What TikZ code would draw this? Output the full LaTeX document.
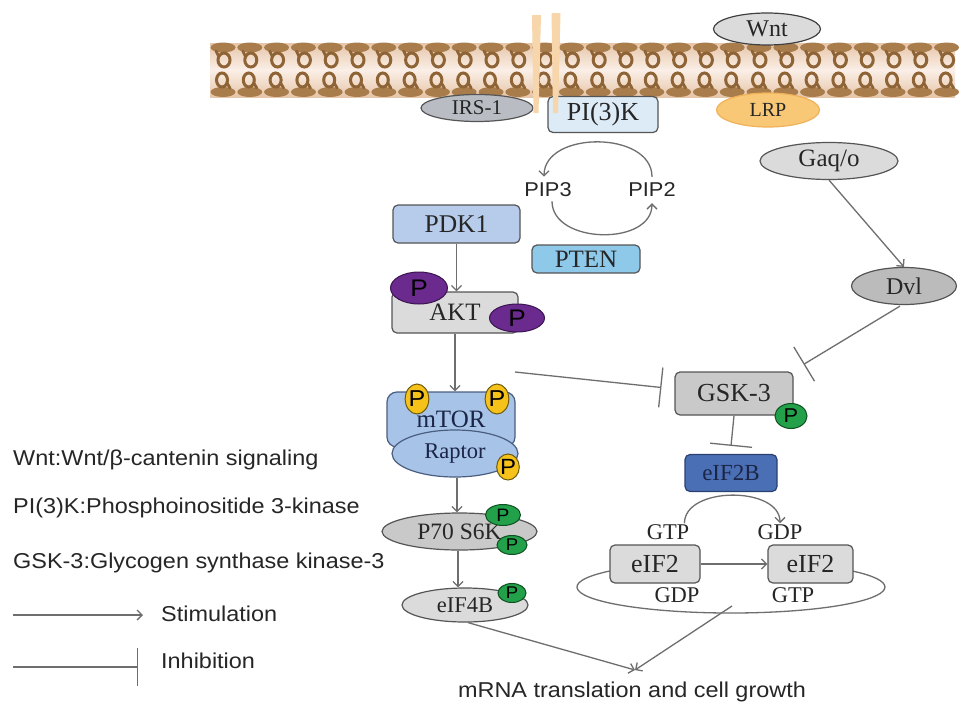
\documentclass[tikz,border=0pt]{standalone}
\usepackage{fontspec}
\setmainfont{Liberation Serif}
\newfontfamily\lsans[FakeStretch=1.09]{Liberation Sans}
\usetikzlibrary{shapes.geometric,arrows.meta}
\newcommand\myfs[1]{\fontsize{#1}{#1}\selectfont}
\definecolor{bordgray}{HTML}{555555}
\definecolor{linegray}{HTML}{6E6E6E}
\definecolor{txtgray}{HTML}{262626}
\definecolor{mbrown}{HTML}{A97C4C}
\definecolor{mdark}{HTML}{8E6436}
\definecolor{mpeach}{HTML}{E6C5A8}
\definecolor{mlight}{HTML}{FBEFE7}
\definecolor{chan}{HTML}{F7D6AC}
\definecolor{irsfill}{HTML}{B9BDC3}
\definecolor{pikfill}{HTML}{DDEBF7}
\definecolor{lgray}{HTML}{DBDBDB}
\definecolor{mgray}{HTML}{C9C9C9}
\definecolor{dgray}{HTML}{BBBBBB}
\definecolor{lrpfill}{HTML}{F8C877}
\definecolor{lrpdraw}{HTML}{F0B258}
\definecolor{pdkfill}{HTML}{B7CCEB}
\definecolor{ptenfill}{HTML}{8FC9E9}
\definecolor{mtorfill}{HTML}{A8C3E8}
\definecolor{mtordraw}{HTML}{4A5F80}
\definecolor{purp}{HTML}{6B2A8E}
\definecolor{purpd}{HTML}{3A1550}
\definecolor{yel}{HTML}{F6C21A}
\definecolor{yeld}{HTML}{6B5A10}
\definecolor{grn}{HTML}{22A04A}
\definecolor{grnd}{HTML}{0F5020}
\definecolor{eiffill}{HTML}{4B6FB5}
\definecolor{eifdraw}{HTML}{2A4070}
\definecolor{eiftxt}{HTML}{1A2547}
\begin{document}
\begin{tikzpicture}[x=1pt,y=1pt,
  ell/.style={ellipse, draw=bordgray, line width=1.2pt, inner sep=0pt, text=txtgray},
  rbox/.style={rectangle, rounded corners=5pt, draw=bordgray, line width=1.2pt, inner sep=0pt, text=txtgray},
  pp/.style={ellipse, inner sep=0pt, line width=1pt, text=black},
  lbl/.style={inner sep=1pt, text=txtgray},
  stim/.style={draw=linegray, line width=1.3pt, -{Straight Barb[length=5pt,width=10pt]}},
  inh/.style={draw=linegray, line width=1.3pt, -{Bar[width=#1,line width=1.3pt]}},
  inh/.default=40pt,
  plainline/.style={draw=linegray, line width=1.3pt}
]
\useasboundingbox (0,0) rectangle (969,-718);
\fill[white] (0,0) rectangle (969,-718);

% membrane
\shade[top color=mpeach, bottom color=mpeach, middle color=mlight] (210,-43) rectangle (955,-97);
\foreach \i in {0,...,27}{
  \pgfmathsetmacro\xx{223+26.8*\i}
  \fill[mbrown] (\xx,-47.5) ellipse [x radius=12.5pt, y radius=5pt];
  \fill[mbrown] (\xx,-92) ellipse [x radius=12.5pt, y radius=5pt];
  \draw[mdark, line width=3pt] (\xx+1,-60) ellipse [x radius=6pt, y radius=7pt];
  \draw[mdark, line width=3pt] (\xx-1,-80) ellipse [x radius=5.5pt, y radius=7pt];
  \draw[mdark, line width=2.8pt, line cap=round] (\xx-7,-51) -- (\xx-4,-57);
  \draw[mdark, line width=2.8pt, line cap=round] (\xx+7,-88) -- (\xx+4,-83);
}

% membrane proteins
\node[ell, fill=irsfill, minimum width=112pt, minimum height=27pt, font=\myfs{21}] (irs) at (477,-108) {IRS-1};
\node[rbox, fill=pikfill, minimum width=110pt, minimum height=36pt, font=\myfs{26}] (pi3k) at (603,-114.5) {PI(3)K};
\fill[chan] (532,-15) -- (541,-15) -- (538.5,-113) -- (533.5,-113) -- cycle;
\fill[chan] (551.5,-13) -- (560.5,-13) -- (558,-113) -- (553,-113) -- cycle;
\node[ell, fill=lgray, draw=black!75, minimum width=107pt, minimum height=32pt, font=\myfs{24}] (wnt) at (767,-29) {Wnt};
\node[ell, fill=lrpfill, draw=lrpdraw, minimum width=103pt, minimum height=34pt, font=\myfs{20}] (lrp) at (768,-110) {LRP};

% PIP cycle
\node[lbl, font=\lsans\myfs{20}] (pip3) at (548,-190) {PIP3};
\node[lbl, font=\lsans\myfs{20}] (pip2) at (652,-190) {PIP2};
\draw[stim] ([yshift=5pt]pip2.north) to[out=90, in=90, looseness=1.1] ([xshift=-4pt,yshift=5pt]pip3.north);
\draw[stim] ([xshift=4pt,yshift=-3pt]pip3.south) to[out=-90, in=-90, looseness=1.1] ([yshift=-5pt]pip2.south);

% left cascade
\node[rbox, fill=pdkfill, minimum width=127pt, minimum height=38pt, font=\myfs{25.5}] (pdk1) at (456.5,-224) {PDK1};
\node[rbox, fill=ptenfill, draw=bordgray, minimum width=108pt, minimum height=28pt, font=\myfs{25}] (pten) at (586,-259) {PTEN};
\node[rbox, fill=lgray, minimum width=126pt, minimum height=41pt, font=\myfs{25}] (akt) at (455,-312.5) {AKT};
\node[pp, fill=purp, draw=purpd, minimum width=57pt, minimum height=32pt, font=\lsans\myfs{24}] (pa1) at (419,-288) {P};
\node[pp, fill=purp, draw=purpd, minimum width=55pt, minimum height=28pt, font=\lsans\myfs{24}] (pa2) at (517,-318) {P};

\node[rbox, rounded corners=10pt, fill=mtorfill, draw=mtordraw, minimum width=128pt, minimum height=55pt, text=eiftxt, font=\myfs{26}] (mtor) at (451,-419.5) {};
\node[ell, fill=mtorfill, draw=mtordraw, minimum width=126pt, minimum height=47pt, text=eiftxt, font=\myfs{22.5}] (raptor) at (455,-453.5) {Raptor};
\node[lbl, text=eiftxt, font=\myfs{25}] (mtorlbl) at (451,-419) {mTOR};
\node[pp, fill=yel, draw=yeld, minimum width=22pt, minimum height=30pt, font=\lsans\myfs{23}] (py1) at (417,-399) {P};
\node[pp, fill=yel, draw=yeld, minimum width=22pt, minimum height=30pt, font=\lsans\myfs{23}] (py2) at (497,-399) {P};
\node[pp, fill=yel, draw=yeld, minimum width=22pt, minimum height=26pt, font=\lsans\myfs{22}] (py3) at (508,-467) {P};

\node[ell, fill=mgray, minimum width=155pt, minimum height=37pt, font=\myfs{23.5}] (p70) at (459.5,-531.5) {P70 S6K};
\node[pp, fill=grn, draw=grnd, minimum width=35pt, minimum height=21pt, font=\lsans\myfs{18}] (pg1) at (503,-515) {P};
\node[pp, fill=grn, draw=grnd, minimum width=30pt, minimum height=19pt, font=\lsans\myfs{17}] (pg2) at (512,-545) {P};
\node[ell, fill=lgray, minimum width=126pt, minimum height=34pt, font=\myfs{22.5}] (eif4b) at (465,-605) {eIF4B};
\node[pp, fill=grn, draw=grnd, minimum width=28pt, minimum height=19pt, font=\lsans\myfs{17}] (pg3) at (512,-593) {P};

\draw[stim] (pdk1.south) -- (pdk1.south |- akt.north);
\draw[stim] (akt.south) -- (akt.south |- mtor.north);
\draw[stim] ([xshift=2pt]raptor.south) -- ([xshift=2pt]raptor.south |- p70.north);
\draw[stim] ([xshift=-1.5pt]p70.south) -- ([xshift=-1.5pt]p70.south |- eif4b.north);

% right side
\node[ell, fill=lgray, minimum width=138pt, minimum height=37pt, font=\myfs{25}] (gaq) at (829,-161) {Gaq/o};
\node[ell, fill=dgray, minimum width=105pt, minimum height=37pt, font=\myfs{24}] (dvl) at (904,-286) {Dvl};
\draw[stim] (gaq.south) -- (dvl.north);

\node[rbox, fill=mgray, minimum width=118pt, minimum height=43pt, font=\myfs{26}] (gsk) at (734,-393.5) {GSK-3};
\node[pp, fill=grn, draw=grnd, minimum width=32pt, minimum height=25pt, font=\lsans\myfs{20}] (pg4) at (791,-416) {P};
\node[rbox, fill=eiffill, draw=eifdraw, minimum width=92pt, minimum height=37pt, text=eiftxt, font=\myfs{23}] (eif2b) at (731,-473) {eIF2B};

\coordinate (inhstart) at (515,-372);
\draw[inh=40pt] (inhstart) -- ([xshift=-13pt,yshift=6pt]gsk.west);
\draw[inh=40pt] ([xshift=-4pt,yshift=-1pt]dvl.south) -- ([xshift=10pt,yshift=7pt]gsk.north east);
\draw[inh=42pt] (gsk.south) -- ([yshift=8pt]eif2b.north);

% eIF2 cycle
\draw[plainline] (609.6,-571) arc [start angle=142, end angle=398, x radius=154pt, y radius=26pt];
\node[rbox, fill=lgray, minimum width=90pt, minimum height=38pt, font=\myfs{26}] (eifL) at (655,-564) {eIF2};
\node[rbox, fill=lgray, minimum width=85pt, minimum height=38pt, font=\myfs{26}] (eifR) at (810.5,-564) {eIF2};
\node[lbl, font=\myfs{22.5}] (gtp1) at (668,-532) {GTP};
\node[lbl, font=\myfs{22.5}] (gdp1) at (780,-532) {GDP};
\node[lbl, font=\myfs{22.5}] (gdp2) at (677,-595) {GDP};
\node[lbl, font=\myfs{22.5}] (gtp2) at (793,-595) {GTP};
\draw[stim] ([xshift=-6pt]gtp1.north east) to[out=90, in=90] (gdp1.north);
\draw[stim] (eifL.east) -- (eifR.west);

% output
\node[lbl, font=\lsans\myfs{21.5}] (mrna) at (632,-692) {mRNA translation and cell growth};
\coordinate (conv) at (635,-670);
\coordinate (loopbot) at (732,-606);
\draw[stim] ([xshift=3pt]eif4b.south) -- (conv);
\draw[stim] (loopbot) -- (conv);

% legend
\node[lbl, anchor=west, font=\lsans\myfs{21.5}] (leg1) at (12,-460) {Wnt:Wnt/β-cantenin signaling};
\node[lbl, anchor=west, font=\lsans\myfs{21.5}] (leg2) at (12,-508) {PI(3)K:Phosphoinositide 3-kinase};
\node[lbl, anchor=west, font=\lsans\myfs{21.5}] (leg3) at (12,-563) {GSK-3:Glycogen synthase kinase-3};
\coordinate (sa) at (13,-615);
\coordinate (sb) at (143,-615);
\draw[stim] (sa) -- (sb);
\node[lbl, anchor=west, font=\lsans\myfs{21.5}] (leg4) at (160,-614) {Stimulation};
\coordinate (ia) at (13,-667);
\coordinate (ib) at (138,-667);
\draw[inh=38pt] (ia) -- (ib);
\node[lbl, anchor=west, font=\lsans\myfs{21.5}] (leg5) at (160,-661) {Inhibition};
\end{tikzpicture}
\end{document}
